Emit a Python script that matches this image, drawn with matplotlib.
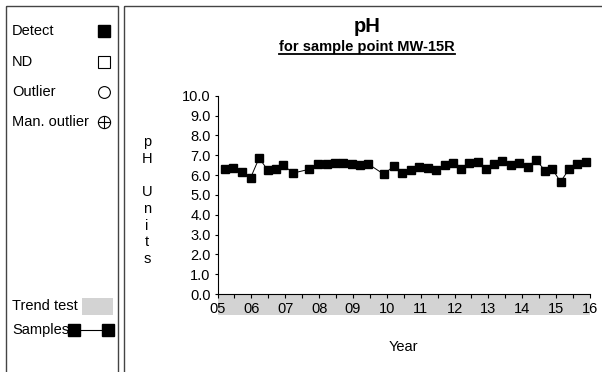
import matplotlib
matplotlib.use("Agg")
import matplotlib.pyplot as plt
from matplotlib.patches import Rectangle
from matplotlib.ticker import MultipleLocator, FixedLocator, FixedFormatter, FormatStrFormatter

plt.rcParams['font.family'] = ['Liberation Sans', 'DejaVu Sans']

# pH field measurements, MW-15R (decimal year, pH units)
sample_years = [2005.22, 2005.45, 2005.73, 2005.98, 2006.23, 2006.48, 2006.72, 2006.94,
                2007.24, 2007.71, 2007.96, 2008.22, 2008.47, 2008.71, 2008.96, 2009.22,
                2009.45, 2009.91, 2010.21, 2010.46, 2010.71, 2010.95, 2011.22, 2011.45,
                2011.72, 2011.96, 2012.20, 2012.43, 2012.68, 2012.92, 2013.17, 2013.41,
                2013.67, 2013.91, 2014.16, 2014.40, 2014.68, 2014.89, 2015.13, 2015.38,
                2015.63, 2015.88]
ph_values = [6.30, 6.34, 6.14, 5.87, 6.86, 6.25, 6.32, 6.49, 6.10, 6.29, 6.56, 6.56,
             6.62, 6.59, 6.56, 6.49, 6.56, 6.04, 6.45, 6.12, 6.25, 6.39, 6.34, 6.25,
             6.49, 6.59, 6.28, 6.61, 6.66, 6.28, 6.54, 6.72, 6.50, 6.62, 6.39, 6.77,
             6.21, 6.29, 5.66, 6.29, 6.55, 6.67]
year_ticks = list(range(2005, 2017))
year_labels = ["05", "06", "07", "08", "09", "10", "11", "12", "13", "14", "15", "16"]
trend_window = (2005, 2016)

W, H = 602, 372
fig = plt.figure(figsize=(W / 100, H / 100), dpi=100)
band_gray = "#d3d3d3"
fs = 10.5

# Overlay in pixel coordinates for the panels and legend
ov = fig.add_axes([0, 0, 1, 1], zorder=0)
ov.set_xlim(0, W)
ov.set_ylim(H, 0)
ov.axis("off")

edge = "#444444"
ov.add_patch(Rectangle((6, 5.7), 111.7, 400, fill=False, ec=edge, lw=1.0))
ov.add_patch(Rectangle((124.3, 5.7), 600, 400, fill=False, ec=edge, lw=1.0))

legend_rows = [("Detect", 31), ("ND", 61.5), ("Outlier", 91.5), ("Man. outlier", 122)]
for label, y in legend_rows:
    ov.text(12, y, label, fontsize=fs, va="center", ha="left")
ov.plot([104], [31], marker="s", ms=8.3, mfc="black", mec="black", ls="none")
ov.plot([104], [61.5], marker="s", ms=8.3, mfc="white", mec="black", mew=0.8, ls="none")
ov.plot([104], [91.5], marker="o", ms=8.5, mfc="white", mec="black", mew=0.8, ls="none")
ov.plot([104], [122], marker="o", ms=8.8, mfc="white", mec="black", mew=0.8, ls="none")
ov.plot([104], [122], marker="+", ms=8.8, mec="black", mew=0.8, ls="none")

ov.text(12, 306, "Trend test", fontsize=fs, va="center", ha="left")
ov.add_patch(Rectangle((82, 298), 31, 17, fc=band_gray, ec="none"))
ov.text(12, 330, "Samples", fontsize=fs, va="center", ha="left")
ov.plot([74, 108], [330, 330], color="black", lw=0.8, marker="s", ms=8,
        mfc="black", mec="black")

# Titles
ov.text(366.7, 27, "pH", fontsize=14.5, fontweight="bold", ha="center", va="center")
sub = ov.text(366.7, 46.5, "for sample point MW-15R", fontsize=10.5, fontweight="bold",
              ha="center", va="center")
fig.canvas.draw()
bb = sub.get_window_extent().transformed(ov.transData.inverted())
ov.plot([bb.x0, bb.x1], [53.8, 53.8], color="black", lw=1.3)

# Vertical stacked axis label
for i, ch in enumerate("pH Units"):
    if ch != " ":
        ov.text(147, 142 + i * 16.7, ch, fontsize=fs, ha="center", va="center")

# Main plot area
ax = fig.add_axes([217.5 / W, 1 - 294 / H, 372.5 / W, (294 - 95.7) / H], zorder=1)
ax.patch.set_alpha(0)
ax.plot(sample_years, ph_values, color="black", lw=0.7, marker="s", ms=6.2,
        mfc="black", mec="black", clip_on=False, zorder=3)
ax.set_xlim(2005, 2016)
ax.set_ylim(0, 10)

# Trend-test period band under the x axis
ax.add_patch(Rectangle((trend_window[0], -1.08), trend_window[1] - trend_window[0], 1.08,
                       fc=band_gray, ec="none", clip_on=False, zorder=0))

for s in ("top", "right"):
    ax.spines[s].set_visible(False)
for s in ("left", "bottom"):
    ax.spines[s].set_linewidth(0.8)

ax.yaxis.set_major_locator(MultipleLocator(1))
ax.yaxis.set_major_formatter(FormatStrFormatter("%.1f"))
ax.tick_params(axis="y", direction="out", length=2.5, width=0.8, labelsize=fs, pad=2.5)

ax.xaxis.set_major_locator(FixedLocator(year_ticks))
ax.xaxis.set_major_formatter(FixedFormatter(year_labels))
ax.xaxis.set_minor_locator(MultipleLocator(0.5))
ax.tick_params(axis="x", which="both", direction="out", length=3, width=0.8,
               labelsize=fs, pad=2.8)
ax.set_xlabel("Year", fontsize=fs, labelpad=17)

fig.savefig("out.png", dpi=100)
